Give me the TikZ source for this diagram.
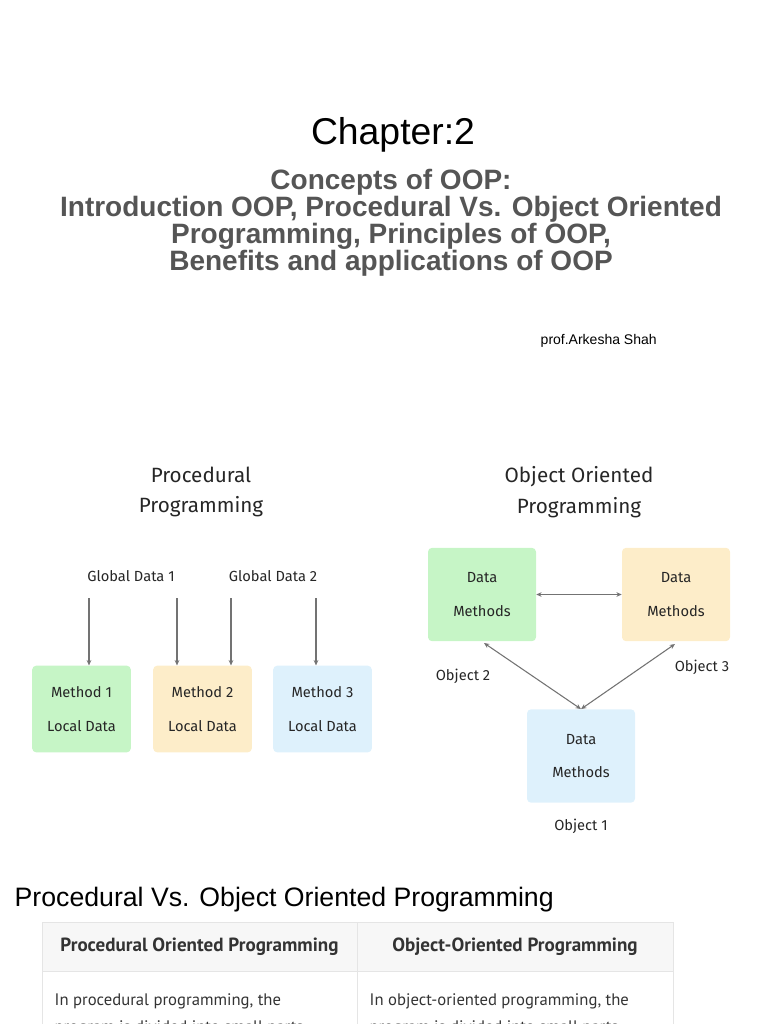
\documentclass[tikz,border=0pt]{standalone}
\usepackage{fontspec}
\setmainfont{Liberation Sans}
\newfontfamily\dfont{Fira Sans}
\newfontfamily\tfont{PT Sans}
\usetikzlibrary{arrows.meta}
\definecolor{bgreen}{HTML}{C6F5C6}
\definecolor{byellow}{HTML}{FDEDC9}
\definecolor{bblue}{HTML}{DEF1FC}
\definecolor{sub}{HTML}{555555}
\begin{document}
\begin{tikzpicture}[x=0.75pt,y=-0.75pt,
  box/.style={rounded corners=3pt,draw=none,minimum width=74pt,minimum height=65pt,font=\dfont\fontsize{11}{25}\selectfont,align=center,text=black!85},
  lab/.style={font=\dfont\fontsize{11}{13}\selectfont,text=black!85},
  hd/.style={font=\dfont\fontsize{15.5}{23}\selectfont,align=center,text=black!85},
  arr/.style={-{Stealth[length=4pt,width=3.5pt]},draw=black!55,line width=0.8pt},
  darr/.style={{Stealth[length=4pt,width=3.5pt]}-{Stealth[length=4pt,width=3.5pt]},draw=black!55,line width=0.8pt}]
\useasboundingbox (0,0) rectangle (768,1024);
\clip (0,0) rectangle (768,1024);
\node (ch) at (393,135) {\fontsize{28}{30}\selectfont Chapter:2};
\node[align=center,text=sub,font=\bfseries\fontsize{21}{20.3}\selectfont] (sub) at (391,223) {Concepts of OOP:\\Introduction OOP, Procedural Vs. Object Oriented\\Programming, Principles of OOP,\\Benefits and applications of OOP};
\node[anchor=west,font=\fontsize{10.5}{12}\selectfont] (prof) at (536,341) {prof.Arkesha Shah};
% procedural
\node[hd] (ph) at (201,492) {Procedural\\Programming};
\node[hd] (oh) at (579,492) {Object Oriented\\Programming};
\node[lab] (g1) at (131,576) {Global Data 1};
\node[lab] (g2) at (273,576) {Global Data 2};
\node[box,fill=bgreen] (m1) at (81.5,709) {Method 1\\Local Data};
\node[box,fill=byellow] (m2) at (202.5,709) {Method 2\\Local Data};
\node[box,fill=bblue] (m3) at (322.5,709) {Method 3\\Local Data};
\coordinate (a1) at (89,598); \coordinate (a2) at (177,598);
\coordinate (a3) at (231,598); \coordinate (a4) at (316,598);
\draw[arr] (a1) -- (a1 |- m1.north);
\draw[arr] (a2) -- (a2 |- m2.north);
\draw[arr] (a3) -- (a3 |- m2.north);
\draw[arr] (a4) -- (a4 |- m3.north);
% OOP
\node[box,fill=bgreen,minimum width=81pt,minimum height=70pt] (o2) at (482,594.5) {Data\\Methods};
\node[box,fill=byellow,minimum width=81pt,minimum height=70pt] (o3) at (676,594.5) {Data\\Methods};
\node[box,fill=bblue,minimum width=81pt,minimum height=70pt] (o1) at (581,756) {Data\\Methods};
\draw[darr] (o2.east) -- (o3.west);
\draw[darr] (484,643) -- (o1.north);
\draw[darr] (675,644) -- (o1.north);
\node[lab] (l2) at (463,676) {Object 2};
\node[lab] (l3) at (702,667) {Object 3};
\node[lab] (l1) at (581,826) {Object 1};
% section
\node[anchor=west,font=\fontsize{20}{22}\selectfont] (sec) at (10,900) {Procedural Vs. Object Oriented Programming};
\fill[black!3] (42,922) rectangle (673,971);
\draw[black!10,line width=0.6pt] (42,922) rectangle (673,1030);
\draw[black!10,line width=0.6pt] (42,971) -- (673,971);
\draw[black!10,line width=0.6pt] (357,922) -- (357,1030);
\node[font=\tfont\bfseries\fontsize{14.3}{15}\selectfont,text=black!80] (t1) at (199.5,947) {Procedural Oriented Programming};
\node[font=\tfont\bfseries\fontsize{14.3}{15}\selectfont,text=black!80] (t2) at (515,947) {Object-Oriented Programming};
\node[anchor=north west,align=left,font=\tfont\fontsize{12.5}{20}\selectfont,text=black!80] (c1) at (50,989) {In procedural programming, the\\program is divided into small parts};
\node[anchor=north west,align=left,font=\tfont\fontsize{12.5}{20}\selectfont,text=black!80] (c2) at (365,989) {In object-oriented programming, the\\program is divided into small parts};
\end{tikzpicture}
\end{document}
